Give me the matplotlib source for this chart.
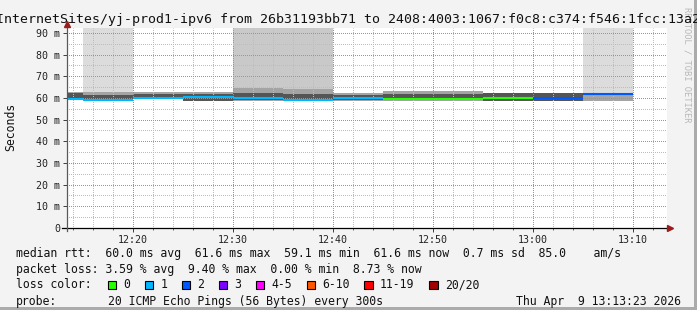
import matplotlib
matplotlib.use("Agg")

import numpy as np
import matplotlib.pyplot as plt
from matplotlib.patches import Rectangle

MONO = "DejaVu Sans Mono"
plt.rcParams["font.family"] = [MONO, "DejaVu Sans"]

# ---------------------------------------------------------
# data (5 minute rows, start = minutes after 12:00)
# ---------------------------------------------------------
seg_start = [10, 15, 20, 25, 30, 35, 40, 45, 50, 55, 60, 65]
median_ms = [59.5, 59.1, 59.9, 60.6, 60.0, 59.1, 59.8, 59.5, 59.5, 60.0, 60.0, 61.6]
loss_count = [1, 1, 1, 1, 1, 1, 1, 0, 0, 0, 2, 2]
outer_lo = [59.0, 58.8, 59.3, 58.6, 58.8, 58.8, 58.8, 58.8, 58.8, 58.6, 58.6, 58.6]
outer_hi = [62.6, 62.6, 62.8, 62.7, 64.6, 64.0, 62.4, 63.3, 63.3, 62.4, 62.4, 62.3]
core_lo = [59.2, 59.2, 59.5, 58.8, 59.0, 59.0, 59.0, 59.0, 59.0, 58.8, 58.8, 61.2]
core_hi = [62.2, 61.2, 61.8, 61.6, 62.3, 61.8, 61.4, 61.8, 61.8, 62.2, 62.2, 62.3]
spike_level = [0, 1, 0, 0, 2, 2, 0, 0, 0, 0, 0, 1]   # pings off the top of the scale
spike_top = [150] * 12

xtick_pos = [20, 30, 40, 50, 60, 70]
xtick_labels = ["12:20", "12:30", "12:40", "12:50", "13:00", "13:10"]
ytick_pos = [0, 10, 20, 30, 40, 50, 60, 70, 80, 90]
ytick_labels = ["0", "10 m", "20 m", "30 m", "40 m", "50 m", "60 m", "70 m", "80 m", "90 m"]

loss_labels = ["0", "1", "2", "3", "4-5", "6-10", "11-19", "20/20"]
loss_colors = ["#26ff00", "#00b8ff", "#0059ff", "#7e00ff", "#ff00ff", "#ff5500", "#ff0000", "#a10000"]

rtt_stats = [60.0, 61.6, 59.1, 61.6]    # avg max min now
rtt_sd = 0.7
rtt_ams = 85.0
loss_stats = [3.59, 9.40, 0.00, 8.73]   # avg max min now

title = "InternetSites/yj-prod1-ipv6 from 26b31193bb71 to 2408:4003:1067:f0c8:c374:f546:1fcc:13a2"
probe_text = "20 ICMP Echo Pings (56 Bytes) every 300s"
stamp = "Thu Apr  9 13:13:23 2026"

# ---------------------------------------------------------
W, H = 697, 310
BG = "#f3f3f3"
fig = plt.figure(figsize=(W / 100, H / 100), dpi=100, facecolor=BG)

def fx(px):
    return px / W

def fy(py_top):
    return 1 - py_top / H

ax_l, ax_r, ax_t, ax_b = 67, 667, 27.7, 228
ax = fig.add_axes([fx(ax_l), fy(ax_b), fx(ax_r - ax_l), (ax_b - ax_t) / H])
ax.set_facecolor("white")
ax.set_xlim(13.4, 73.4)
ax.set_ylim(0, 92.4)

x0 = np.array(seg_start, dtype=float)
spike_cols = {1: "#dcdcdc", 2: "#c9c9c9"}
sp = [i for i, lv in enumerate(spike_level) if lv]
ax.bar(x0[sp], [spike_top[i] - outer_hi[i] for i in sp], bottom=[outer_hi[i] for i in sp],
       width=5, align="edge", color=[spike_cols[spike_level[i]] for i in sp], lw=0, zorder=1)
ax.bar(x0, np.subtract(outer_hi, outer_lo), bottom=outer_lo, width=5, align="edge",
       color="#a4a4a4", lw=0, zorder=1.1)
ax.bar(x0, np.subtract(core_hi, core_lo), bottom=core_lo, width=5, align="edge",
       color="#555555", lw=0, zorder=1.2)
ax.hlines(median_ms, x0, x0 + 5, colors=[loss_colors[c] for c in loss_count], lw=1.5, zorder=3)

# ticks and grid, 1px on / 1px off dots
x_minor = [m for m in range(14, 74, 2) if m % 10]
y_minor = [v for v in range(5, 95, 5) if v % 10]
ax.set_xticks(xtick_pos, xtick_labels)
ax.set_yticks(ytick_pos, ytick_labels)
ax.set_xticks(x_minor, minor=True)
ax.set_yticks(y_minor, minor=True)
ax.set_axisbelow(False)
dots = (0.5, (1.0, 1.0))
ax.grid(which="minor", color="#bdbdbd", linestyle=dots, linewidth=0.72)
ax.grid(which="major", color="#ff6a6a", linestyle=dots, linewidth=0.72)

for s in ax.spines.values():
    s.set_visible(False)
ax.tick_params(which="major", length=2.9, width=0.72, color="#444444", labelsize=7.2,
               labelcolor="#222222", pad=2.2)
ax.tick_params(which="minor", length=1.4, width=0.72, color="#666666")
ax.tick_params(axis="y", which="minor", length=0)

# axis lines with arrows
aw, ah = ax_r - ax_l, ax_b - ax_t
ax.plot([-5 / aw, 1 + 5 / aw], [0, 0], transform=ax.transAxes, color="black", lw=0.9,
        clip_on=False, zorder=4)
ax.plot([0, 0], [-3 / ah, 1 + 5 / ah], transform=ax.transAxes, color="#5a5a5a", lw=0.9,
        clip_on=False, zorder=4)
ax.plot([1 + 3 / aw], [0], marker=">", ms=4.5, color="#9a1c1c", mec="#9a1c1c",
        transform=ax.transAxes, clip_on=False, zorder=5)
ax.plot([0], [1 + 4 / ah], marker="^", ms=4.5, color="#9a1c1c", mec="#9a1c1c",
        transform=ax.transAxes, clip_on=False, zorder=5)

# title, y label, watermark
fig.text(fx(687), fy(65), "RRDTOOL / TOBI OETIKER", rotation=270, ha="center", va="center",
         fontsize=6.3, color="#b8b8b8")
fig.text(fx(348.5), fy(19), title, ha="center", va="center", fontsize=9.5, color="#111111")
fig.text(fx(10.5), fy(127), "Seconds", rotation=90, ha="center", va="center",
         fontsize=8.3, color="#111111")

# legend block
fs = 8.3
tx = 16
line1 = (f"median rtt:  {rtt_stats[0]:.1f} ms avg  {rtt_stats[1]:.1f} ms max  "
         f"{rtt_stats[2]:.1f} ms min  {rtt_stats[3]:.1f} ms now  {rtt_sd:.1f} ms sd  "
         f"{rtt_ams:.1f}    am/s")
line2 = (f"packet loss: {loss_stats[0]:.2f} % avg  {loss_stats[1]:.2f} % max  "
         f"{loss_stats[2]:.2f} % min  {loss_stats[3]:.2f} % now")
fig.text(fx(tx), fy(254), line1, ha="left", va="center", fontsize=fs, color="#111111")
fig.text(fx(tx), fy(270), line2, ha="left", va="center", fontsize=fs, color="#111111")
fig.text(fx(tx), fy(285), "loss color:", ha="left", va="center", fontsize=fs, color="#111111")
fig.text(fx(tx), fy(301), "probe:", ha="left", va="center", fontsize=fs, color="#111111")
fig.text(fx(107.5), fy(301), probe_text, ha="left", va="center", fontsize=fs, color="#111111")
fig.text(fx(681), fy(301), stamp, ha="right", va="center", fontsize=fs, color="#111111")

cw = 6.95
bx = 108
for lab, col in zip(loss_labels, loss_colors):
    fig.patches.append(Rectangle((fx(bx), fy(289.2)), fx(8.4), 8.4 / H, facecolor=col,
                                 edgecolor="black", lw=0.8, transform=fig.transFigure))
    fig.text(fx(bx + 15.5), fy(285), lab, ha="left", va="center", fontsize=fs, color="#111111")
    bx += 15.5 + cw * len(lab) + 14.5

# frame
fig.patches.append(Rectangle((fx(694), 0), fx(3), 1, facecolor="#ababab", lw=0,
                             transform=fig.transFigure))
fig.patches.append(Rectangle((0, 0), 1, 3 / H, facecolor="#ababab", lw=0,
                             transform=fig.transFigure))

fig.savefig("out.png", dpi=100, facecolor=BG)
